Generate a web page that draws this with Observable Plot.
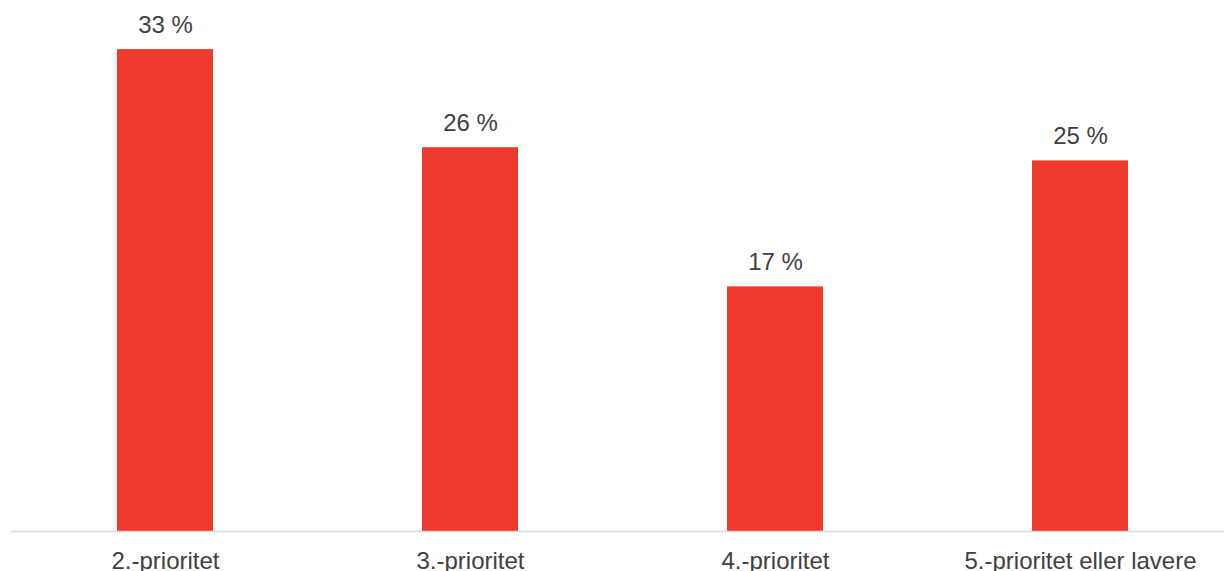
<!DOCTYPE html>
<html>
<head>
<meta charset="utf-8">
<script src="https://cdn.jsdelivr.net/npm/d3@7"></script>
<script src="https://cdn.jsdelivr.net/npm/@observablehq/plot@0.6"></script>
<style>
  html, body { margin: 0; padding: 0; background: #fff; }
  #chart svg { display: block; }
</style>
</head>
<body>
<div id="chart"></div>
<script>
const categories = ["2.-prioritet", "3.-prioritet", "4.-prioritet", "5.-prioritet eller lavere"];
const values = [32.9, 26.2, 16.7, 25.3];

const data = categories.map((c, i) => ({category: c, value: values[i]}));

const chart = Plot.plot({
  width: 1224,
  height: 571,
  marginTop: 0,
  marginBottom: 40,
  marginLeft: 11,
  marginRight: 0,
  style: {fontFamily: "'Liberation Sans', Arial, sans-serif", background: "#fff"},
  x: {domain: categories, paddingInner: 0.686, paddingOuter: 0.327, align: 0.525, label: null},
  y: {domain: [0, 36.25], axis: null},
  marks: [
    Plot.barY(data, {x: "category", y: "value", fill: "#ee3b2e"}),
    Plot.ruleY([0], {stroke: "#d9d9d9", strokeWidth: 1.5}),
    Plot.text(data, {
      x: "category", y: "value",
      text: d => `${Math.round(d.value)} %`,
      lineAnchor: "bottom", dy: -17,
      fontSize: 24, fill: "#404040"
    }),
    Plot.axisX({tickSize: 0, tickPadding: 20, fontSize: 24, color: "#404040", label: null})
  ]
});
document.getElementById("chart").appendChild(chart);
</script>
</body>
</html>
